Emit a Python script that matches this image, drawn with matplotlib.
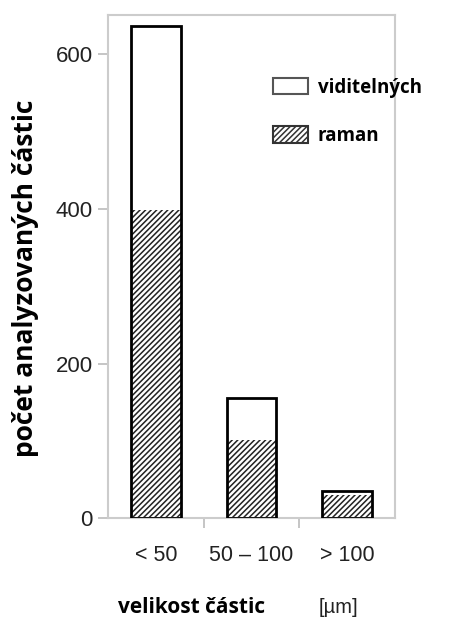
import matplotlib
matplotlib.use("Agg")
import matplotlib.pyplot as plt
from matplotlib.patches import Patch
import numpy as np

categories = ["< 50", "50 – 100", "> 100"]
visible = [637, 155, 35]
raman = [398, 101, 30]
yticks = [0, 200, 400, 600]

plt.rcParams['hatch.linewidth'] = 1.1
narrow = ['Liberation Sans Narrow', 'Liberation Sans', 'DejaVu Sans']
boldfont = ['Open Sans', 'DejaVu Sans']

fig = plt.figure(figsize=(4.5, 6.22), dpi=100)
ax = fig.add_axes([0.24, 0.167, 0.638, 0.809])

x = np.arange(len(categories))
width = 0.52
ax.bar(x, raman, width, color='white', edgecolor='#222222', hatch='//////', linewidth=0, zorder=2)
ax.bar(x, visible, width, fill=False, edgecolor='black', linewidth=2, zorder=3)

ax.set_xlim(-0.5, 2.5)
ax.set_ylim(0, 651)
ax.set_yticks(yticks)
ax.set_yticklabels([str(t) for t in yticks], fontfamily=narrow, fontsize=16, color='#222222')
ax.set_xticks(x)
ax.set_xticklabels(categories, fontfamily=narrow, fontsize=15.5, color='#222222')
ax.set_xticks([0.5, 1.5], minor=True)
ax.tick_params(axis='x', which='major', length=0, pad=19)
ax.tick_params(axis='x', which='minor', length=7, color='#bbbbbb', width=1.2)
ax.tick_params(axis='y', length=7, color='#bbbbbb', width=1.2, pad=4)
for s in ax.spines.values():
    s.set_color('#cccccc')
    s.set_linewidth(1.5)

ax.set_ylabel("počet analyzovaných částic", fontfamily=boldfont, fontweight='bold',
              fontsize=19)
ax.yaxis.set_label_coords(-0.24, 0.477)

fig.text(0.262, 0.014, "velikost částic", fontfamily=boldfont, fontweight='bold',
         fontsize=15, ha='left', va='baseline')
fig.text(0.708, 0.014, "[µm]", fontfamily=narrow, fontsize=14.5, ha='left', va='baseline',
         color='#222222')

handles = [Patch(facecolor='white', edgecolor='#555555', linewidth=1.5),
           Patch(facecolor='white', edgecolor='#333333', hatch='//////', linewidth=1.5)]
ax.legend(handles, ["viditelných", "raman"], loc='upper left', bbox_to_anchor=(0.573, 0.875),
          frameon=False, prop={'family': boldfont, 'weight': 'bold', 'size': 13.5},
          handlelength=1.9, handleheight=0.95, labelspacing=1.5, handletextpad=0.5,
          borderaxespad=0, borderpad=0)

fig.savefig("out.png", dpi=100, facecolor='white')
